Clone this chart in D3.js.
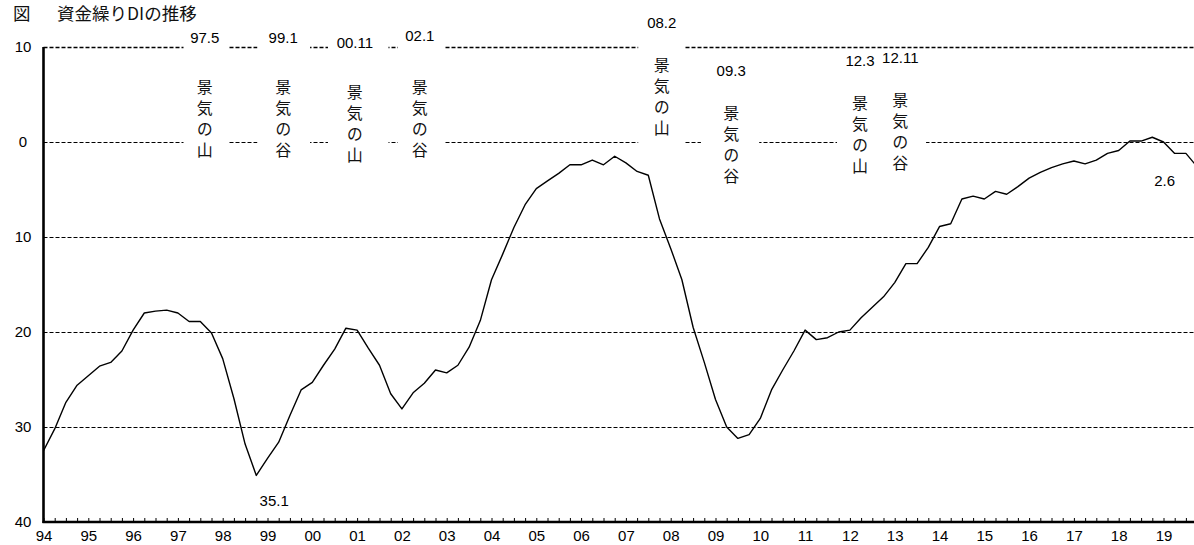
<!DOCTYPE html>
<html>
<head>
<meta charset="utf-8">
<script src="https://cdn.jsdelivr.net/npm/d3@7"></script>
<style>
  body { margin: 0; background: #fff; }
  svg { display: block; }
  .num { font-family: "Liberation Sans Narrow", "Liberation Sans", Arial, sans-serif; font-size: 15px; fill: #000; }
  .jp { font-family: "Noto Sans CJK JP", sans-serif; font-size: 16px; fill: #111; }
  .vert { writing-mode: vertical-rl; text-orientation: upright; letter-spacing: 5px; }
</style>
</head>
<body>
<script>
// ---- data ----
// 資金繰りDI, quarterly from 1994Q1 to 2019Q4
var years = ["94","95","96","97","98","99","00","01","02","03","04","05","06",
             "07","08","09","10","11","12","13","14","15","16","17","18","19"];
var diValues = [
  -32.5, -30.2, -27.4, -25.6,   // 94
  -24.6, -23.6, -23.2, -22.0,   // 95
  -19.8, -18.0, -17.8, -17.7,   // 96
  -18.0, -18.9, -18.9, -20.1,   // 97
  -22.8, -27.0, -31.8, -35.1,   // 98
  -33.3, -31.6, -28.8, -26.1,   // 99
  -25.3, -23.5, -21.8, -19.6,   // 00
  -19.8, -21.7, -23.5, -26.5,   // 01
  -28.1, -26.4, -25.4, -24.0,   // 02
  -24.3, -23.5, -21.6, -18.8,   // 03
  -14.5, -11.8,  -9.0,  -6.6,   // 04
   -4.9,  -4.1,  -3.3,  -2.4,   // 05
   -2.4,  -1.9,  -2.4,  -1.5,   // 06
   -2.2,  -3.1,  -3.5,  -8.1,   // 07
  -11.2, -14.5, -19.5, -23.2,   // 08
  -27.1, -30.0, -31.2, -30.8,   // 09
  -29.1, -26.1, -24.0, -22.0,   // 10
  -19.8, -20.8, -20.6, -20.0,   // 11
  -19.8, -18.5, -17.4, -16.3,   // 12
  -14.8, -12.8, -12.8, -11.1,   // 13
   -8.9,  -8.6,  -6.0,  -5.7,   // 14
   -6.0,  -5.2,  -5.5,  -4.7,   // 15
   -3.8,  -3.2,  -2.7,  -2.3,   // 16
   -2.0,  -2.3,  -1.9,  -1.2,   // 17
   -0.9,   0.1,   0.1,   0.5,   // 18
    0.0,  -1.2,  -1.2,  -2.6    // 19
];
var yTicks = [10, 0, -10, -20, -30, -40];
var gridValues = [10, 0, -10, -20, -30];

// 景気の山・谷
var cycleDates = ["97.5", "99.1", "00.11", "02.1", "08.2", "09.3", "12.3", "12.11"];
var cycleKinds = ["景気の山", "景気の谷", "景気の山", "景気の谷", "景気の山", "景気の谷", "景気の山", "景気の谷"];
// value labels on the line
var noteTexts = ["35.1", "2.6"];

// ---- layout ----
var W = 1194, H = 545;
var x0 = 43.5, qStep = 11.2;
var yTop = 47, yBottom = 522;

// label placement (x in quarter index, y in px; charY = centre of first glyph)
var cycleLayout = [
  {at: 14.4, numY: 43, charY: 87},
  {at: 21.4, numY: 43, charY: 87},
  {at: 27.8, numY: 48, charY: 92},
  {at: 33.6, numY: 41, charY: 87},
  {at: 55.2, numY: 28, charY: 65},
  {at: 61.4, numY: 76, charY: 113},
  {at: 72.9, numY: 66, charY: 103},
  {at: 76.5, numY: 63, charY: 100}
];
// white boxes that break the grid lines, in quarter index / px
var maskLayout = [
  {from: 12.5, to: 16.5, top: 30, bottom: 160},
  {from: 19.1, to: 23.8, top: 30, bottom: 160},
  {from: 25.4, to: 30.8, top: 30, bottom: 160},
  {from: 31.65, to: 35.85, top: 30, bottom: 160},
  {from: 53.1, to: 57.2, top: 10, bottom: 150},
  {from: 58.7, to: 63.9, top: 60, bottom: 195},
  {from: 70.85, to: 78.8, top: 50, bottom: 180}
];
var noteLayout = [
  {at: 20.6, y: 500},
  {at: 100.1, y: 180}
];

var svg = d3.select("body").append("svg")
    .attr("width", W)
    .attr("height", H);

var x = d3.scaleLinear()
    .domain([0, 104])
    .range([x0, x0 + 104 * qStep]);
var y = d3.scaleLinear()
    .domain([10, -40])
    .range([yTop, yBottom]);

// title
var title = svg.append("text")
    .attr("class", "jp")
    .attr("y", 20)
    .style("font-size", "17.5px");
title.append("tspan").attr("x", 13).text("図");
title.append("tspan").attr("x", 57).text("資金繰りDIの推移");

// dashed grid lines
svg.append("g")
  .selectAll("line")
    .data(gridValues)
  .enter().append("line")
    .attr("x1", x0)
    .attr("x2", W)
    .attr("y1", function(d) { return Math.round(y(d)) + 0.5; })
    .attr("y2", function(d) { return Math.round(y(d)) + 0.5; })
    .attr("stroke", "#000")
    .attr("stroke-width", function(d) { return d === 10 ? 1.6 : 1; })
    .attr("stroke-dasharray", "4,2");

// white boxes behind the cycle labels
svg.append("g")
  .selectAll("rect")
    .data(maskLayout)
  .enter().append("rect")
    .attr("x", function(d) { return x(d.from); })
    .attr("width", function(d) { return x(d.to) - x(d.from); })
    .attr("y", function(d) { return d.top; })
    .attr("height", function(d) { return d.bottom - d.top; })
    .attr("fill", "#fff");

// cycle labels: date + vertical text
var cyc = svg.append("g")
  .selectAll("g")
    .data(cycleDates.map(function(d, i) { return {date: d, kind: cycleKinds[i], lay: cycleLayout[i]}; }))
  .enter().append("g");

cyc.append("text")
    .attr("class", "num")
    .attr("x", function(d) { return x(d.lay.at); })
    .attr("y", function(d) { return d.lay.numY; })
    .attr("text-anchor", "middle")
    .text(function(d) { return d.date; });

cyc.append("text")
    .attr("class", "jp vert")
    .attr("x", function(d) { return x(d.lay.at); })
    .attr("y", function(d) { return d.lay.charY - 8; })
    .text(function(d) { return d.kind; });

// the DI line
var line = d3.line()
    .x(function(d, i) { return x(i); })
    .y(function(d) { return y(d); });

svg.append("path")
    .datum(diValues)
    .attr("d", line)
    .attr("fill", "none")
    .attr("stroke", "#000")
    .attr("stroke-width", 1.4)
    .attr("stroke-linejoin", "round");

// value notes
svg.append("g")
  .selectAll("text")
    .data(noteTexts)
  .enter().append("text")
    .attr("class", "num")
    .attr("x", function(d, i) { return x(noteLayout[i].at); })
    .attr("y", function(d, i) { return noteLayout[i].y; })
    .attr("text-anchor", "middle")
    .attr("dominant-baseline", "central")
    .text(function(d) { return d; });

// x axis: quarterly ticks, year labels
var xAxis = d3.axisBottom(x)
    .tickValues(d3.range(0, 105))
    .tickSize(-4)
    .tickSizeOuter(0)
    .tickPadding(8)
    .tickFormat(function(d) { return d % 4 === 0 ? years[d / 4] : ""; });

var gx = svg.append("g")
    .attr("transform", "translate(0," + yBottom + ")")
    .call(xAxis);
gx.select(".domain").remove();
gx.selectAll("line").attr("stroke", "#000").attr("stroke-width", 1);
gx.selectAll("text").attr("class", "num").style("font-size", "15px").attr("fill", "#000");
gx.append("line")
    .attr("x1", x0 - 1)
    .attr("x2", W)
    .attr("stroke", "#000")
    .attr("stroke-width", 2.6);

// y axis
var yAxis = d3.axisLeft(y)
    .tickValues(yTicks)
    .tickSize(0)
    .tickFormat(function(d) { return Math.abs(d); });

var gy = svg.append("g")
    .attr("transform", "translate(" + x0 + ",0)")
    .call(yAxis);
gy.select(".domain").remove();
gy.selectAll("text")
    .attr("class", "num")
    .style("font-size", "15px")
    .attr("x", 23 - x0)
    .attr("text-anchor", "middle")
    .attr("fill", "#000");
gy.append("line")
    .attr("y1", yTop)
    .attr("y2", yBottom + 1)
    .attr("stroke", "#000")
    .attr("stroke-width", 2.6);
</script>
</body>
</html>
